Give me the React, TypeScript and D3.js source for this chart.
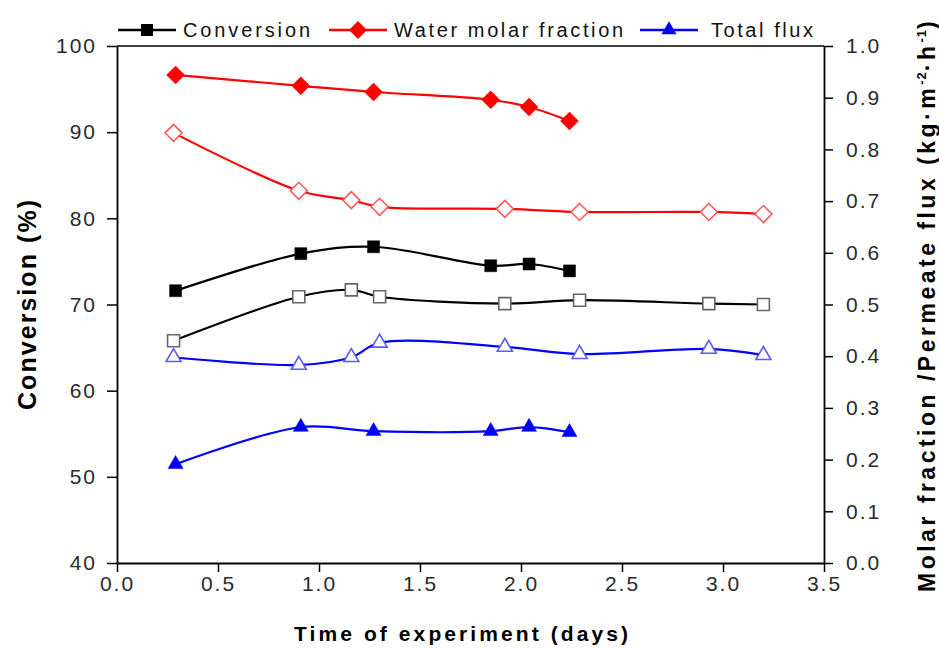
import React, { useRef, useEffect } from "react";
import * as d3 from "d3";

// days of experiment for the two runs
const daysA = [0.29, 0.91, 1.27, 1.85, 2.04, 2.24];
const daysB = [0.28, 0.9, 1.16, 1.3, 1.92, 2.29, 2.93, 3.2];

// run A (filled markers)
const conversionA = [71.6, 75.9, 76.7, 74.5, 74.7, 73.9];
const waterA = [0.944, 0.923, 0.911, 0.896, 0.882, 0.855];
const fluxA = [0.191, 0.263, 0.255, 0.255, 0.263, 0.253];

// run B (open markers)
const conversionB = [65.8, 70.9, 71.7, 70.9, 70.1, 70.5, 70.1, 70.0];
const waterB = [0.832, 0.72, 0.702, 0.689, 0.685, 0.679, 0.679, 0.675];
const fluxB = [0.398, 0.383, 0.398, 0.426, 0.418, 0.404, 0.414, 0.402];

const xTicks = [0, 0.5, 1, 1.5, 2, 2.5, 3, 3.5];
const leftTicks = [40, 50, 60, 70, 80, 90, 100];
const rightTicks = [0, 0.1, 0.2, 0.3, 0.4, 0.5, 0.6, 0.7, 0.8, 0.9, 1.0];

const legendNames = ["Conversion", "Water molar fraction", "Total flux"];

const width = 939;
const height = 648;
const marginLeft = 117;
const marginRight = 115;
const marginTop = 46;
const marginBottom = 85;

const tickFont = "'Liberation Sans', Arial, sans-serif";
const labelFont = "'Liberation Sans Narrow', 'Liberation Sans', Arial, sans-serif";

type Shape = "square" | "diamond" | "triangle";

function markerPath(shape: Shape, s: number): string {
  if (shape === "square") return d3.symbol(d3.symbolSquare, s * s)()!;
  if (shape === "triangle") return d3.symbol(d3.symbolTriangle, (Math.sqrt(3) / 4) * s * s)()!;
  // diamond: square turned 45 degrees
  const h = s / 2;
  return `M0,${-h}L${h},0L0,${h}L${-h},0Z`;
}

export default function App() {
  const svgRef = useRef<SVGSVGElement>(null);

  useEffect(() => {
    const x = d3.scaleLinear().domain([0, 3.5]).range([marginLeft, width - marginRight]);
    const yL = d3.scaleLinear().domain([40, 100]).range([height - marginBottom, marginTop]);
    const yR = d3.scaleLinear().domain([0, 1]).range([height - marginBottom, marginTop]);

    const svg = d3.select(svgRef.current);
    svg.selectAll("*").remove();

    // frame top line
    svg.append("line")
      .attr("x1", marginLeft).attr("x2", width - marginRight)
      .attr("y1", marginTop).attr("y2", marginTop)
      .attr("stroke", "#000").attr("stroke-width", 1.5);

    const styleAxis = (g: any) => {
      g.select(".domain").attr("stroke", "#000").attr("stroke-width", 1.8);
      g.selectAll(".tick line").attr("stroke", "#000").attr("stroke-width", 1.5);
      g.selectAll("text")
        .attr("fill", "#2a2a2a")
        .style("font-family", tickFont)
        .style("font-size", "21px")
        .style("letter-spacing", "2px");
    };

    svg.append("g")
      .attr("transform", `translate(0,${height - marginBottom})`)
      .call(d3.axisBottom(x).tickValues(xTicks).tickFormat(d3.format(".1f")).tickSize(9).tickSizeOuter(0).tickPadding(4))
      .call((g) => styleAxis(g));

    svg.append("g")
      .attr("transform", `translate(${marginLeft},0)`)
      .call(d3.axisLeft(yL).tickValues(leftTicks).tickFormat(d3.format("d")).tickSize(10).tickSizeOuter(0).tickPadding(10))
      .call((g) => styleAxis(g));

    svg.append("g")
      .attr("transform", `translate(${width - marginRight},0)`)
      .call(d3.axisRight(yR).tickValues(rightTicks).tickFormat(d3.format(".1f")).tickSize(9).tickSizeOuter(0).tickPadding(13))
      .call((g) => styleAxis(g));

    const curve = d3.curveCatmullRom.alpha(0.5);

    const series = [
      { days: daysB, vals: conversionB, y: yL, color: "#000", stroke: "#666", shape: "square" as Shape, size: 12, filled: false },
      { days: daysA, vals: conversionA, y: yL, color: "#000", stroke: "#000", shape: "square" as Shape, size: 12, filled: true },
      { days: daysB, vals: waterB, y: yR, color: "#ff0000", stroke: "#ff5a5a", shape: "diamond" as Shape, size: 17, filled: false },
      { days: daysA, vals: waterA, y: yR, color: "#ff0000", stroke: "#ff0000", shape: "diamond" as Shape, size: 18, filled: true },
      { days: daysB, vals: fluxB, y: yR, color: "#0000ff", stroke: "#5a5aff", shape: "triangle" as Shape, size: 15, filled: false },
      { days: daysA, vals: fluxA, y: yR, color: "#0000ff", stroke: "#0000ff", shape: "triangle" as Shape, size: 15, filled: true },
    ];

    series.forEach((s) => {
      const pts = s.days.map((d, i) => [d, s.vals[i]] as [number, number]);
      const line = d3.line<[number, number]>()
        .x((d) => x(d[0]))
        .y((d) => s.y(d[1]))
        .curve(curve);
      svg.append("path")
        .attr("d", line(pts))
        .attr("fill", "none")
        .attr("stroke", s.color)
        .attr("stroke-width", 2.2);
    });

    series.forEach((s) => {
      const pts = s.days.map((d, i) => [d, s.vals[i]] as [number, number]);
      svg.append("g")
        .selectAll("path")
        .data(pts)
        .enter()
        .append("path")
        .attr("transform", (d) => `translate(${x(d[0])},${s.y(d[1])})`)
        .attr("d", markerPath(s.shape, s.size))
        .attr("fill", s.filled ? s.color : "#fff")
        .attr("stroke", s.stroke)
        .attr("stroke-width", s.filled ? 0.5 : 1.6);
    });

    // legend
    const legend = [
      { x0: 118, x1: 176, tx: 183, tw: 127, color: "#000", shape: "square" as Shape, size: 12 },
      { x0: 329, x1: 387, tx: 394, tw: 229, color: "#ff0000", shape: "diamond" as Shape, size: 18 },
      { x0: 640, x1: 698, tx: 711, tw: 102, color: "#0000ff", shape: "triangle" as Shape, size: 15 },
    ];
    const ly = 30;
    legend.forEach((l, i) => {
      svg.append("line")
        .attr("x1", l.x0).attr("x2", l.x1).attr("y1", ly).attr("y2", ly)
        .attr("stroke", l.color).attr("stroke-width", 2.5);
      svg.append("path")
        .attr("transform", `translate(${(l.x0 + l.x1) / 2},${ly})`)
        .attr("d", markerPath(l.shape, l.size))
        .attr("fill", l.color);
      svg.append("text")
        .attr("x", l.tx).attr("y", ly + 7)
        .attr("textLength", l.tw)
        .attr("lengthAdjust", "spacing")
        .style("font-family", labelFont)
        .style("font-size", "20px")
        .attr("fill", "#111")
        .text(legendNames[i]);
    });

    // axis titles
    svg.append("text")
      .attr("transform", `translate(36,305) rotate(-90)`)
      .attr("text-anchor", "middle")
      .attr("textLength", 210)
      .attr("lengthAdjust", "spacing")
      .style("font-family", labelFont)
      .style("font-size", "25px")
      .style("font-weight", "bold")
      .text("Conversion (%)");

    svg.append("text")
      .attr("x", 461).attr("y", 641)
      .attr("text-anchor", "middle")
      .attr("textLength", 334)
      .attr("lengthAdjust", "spacing")
      .style("font-family", labelFont)
      .style("font-size", "21px")
      .style("font-weight", "bold")
      .text("Time of experiment (days)");

    const rt = svg.append("text")
      .attr("transform", `translate(935,592) rotate(-90)`)
      .attr("text-anchor", "start")
      .style("font-family", labelFont)
      .style("font-size", "23px")
      .style("font-weight", "bold")
      .style("letter-spacing", "3.5px");
    rt.append("tspan").text("Molar fraction /Permeate flux (kg\u00b7m");
    rt.append("tspan").attr("dy", -9).style("font-size", "13px").style("letter-spacing", "1px").text("-2");
    rt.append("tspan").attr("dy", 9).text("\u00b7h");
    rt.append("tspan").attr("dy", -9).style("font-size", "13px").style("letter-spacing", "1px").text("-1");
    rt.append("tspan").attr("dy", 9).text(")");
  }, []);

  return (
    <div style={{ position: "absolute", left: 0, top: 0 }}>
      <svg ref={svgRef} width={width} height={height} style={{ display: "block", background: "#fff" }}></svg>
    </div>
  );
}
